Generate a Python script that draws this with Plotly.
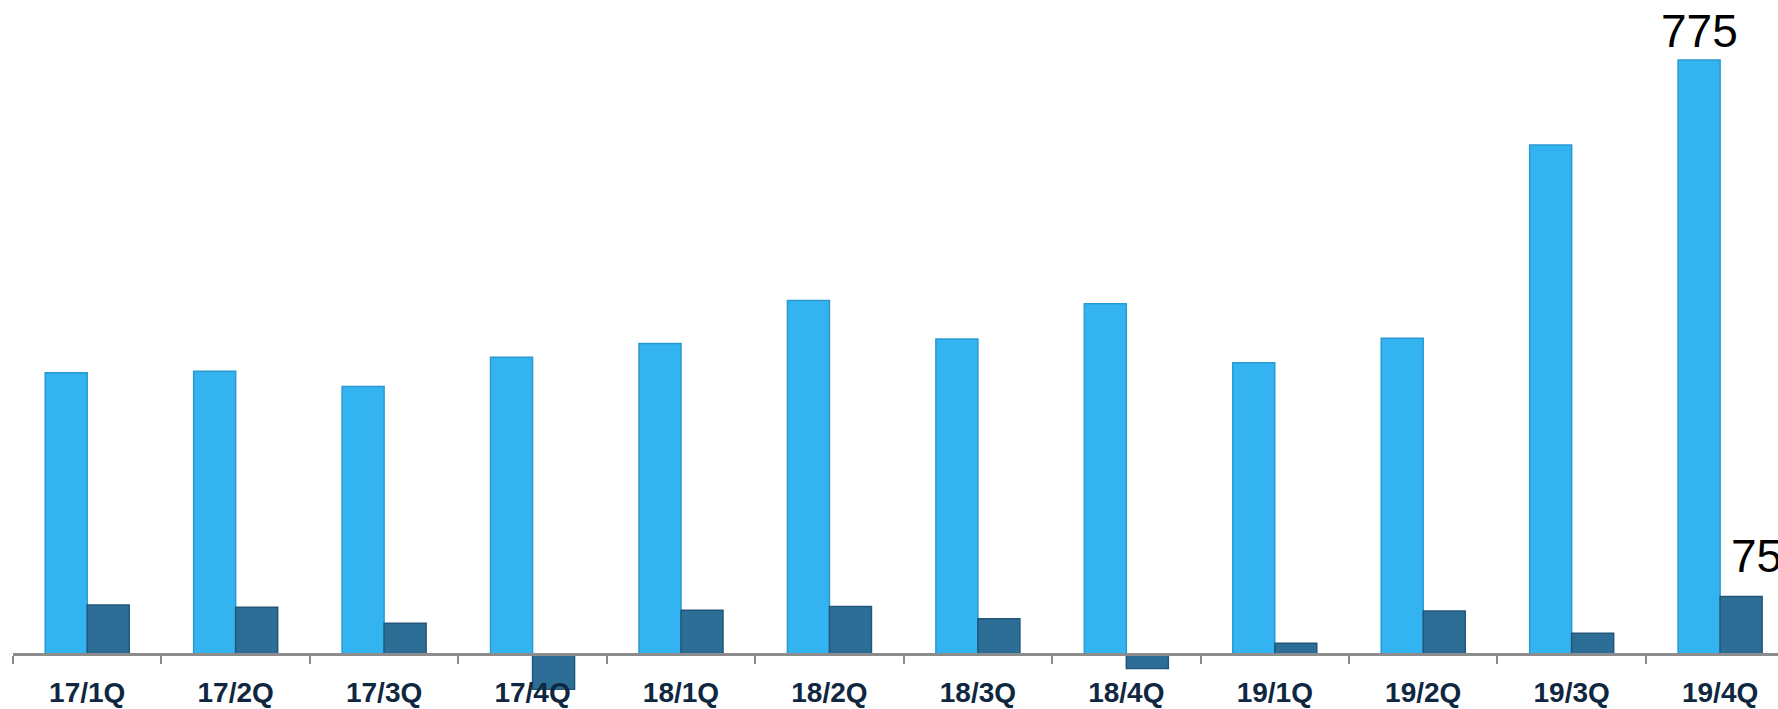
import plotly.graph_objects as go

# Quarterly figures: two series per quarter
quarters = ["17/1Q", "17/2Q", "17/3Q", "17/4Q", "18/1Q", "18/2Q",
            "18/3Q", "18/4Q", "19/1Q", "19/2Q", "19/3Q", "19/4Q"]
series_main = [367, 369, 349, 387, 405, 461, 411, 457, 380, 412, 664, 775]
series_sub = [64, 61, 40, -46, 57, 62, 46, -19, 14, 56, 27, 75]

LIGHT = "#33B3F0"
LIGHT_EDGE = "#2A9AD2"
DARK = "#2D6E97"
DARK_EDGE = "#22577A"
AXIS_GREY = "#8C8C8C"
LABEL_NAVY = "#0F2740"
FONT = "Liberation Sans, Arial, sans-serif"

y_min, y_max = -71.8, 853.2
zero_pos = (0 - y_min) / (y_max - y_min)

fig = go.Figure()
fig.add_trace(go.Bar(
    x=quarters, y=series_main, name="main",
    marker=dict(color=LIGHT, line=dict(color=LIGHT_EDGE, width=1.5)),
))
fig.add_trace(go.Bar(
    x=quarters, y=series_sub, name="sub",
    marker=dict(color=DARK, line=dict(color=DARK_EDGE, width=1.5)),
))

# value labels on the final quarter
last = len(quarters) - 1
fig.add_annotation(
    x=quarters[last], y=series_main[last], text=str(series_main[last]),
    xref="x", yref="y", showarrow=False, xanchor="center", yanchor="bottom",
    xshift=-21, yshift=1, font=dict(family=FONT, size=46, color="#000000"),
)
fig.add_annotation(
    x=quarters[last], y=series_sub[last], text=str(series_sub[last]),
    xref="x", yref="y", showarrow=False, xanchor="center", yanchor="bottom",
    xshift=36, yshift=12, font=dict(family=FONT, size=46, color="#000000"),
)

fig.update_layout(
    width=1778, height=709,
    margin=dict(l=13, r=0, t=0, b=0),
    paper_bgcolor="white", plot_bgcolor="white",
    barmode="group", bargap=0.434, bargroupgap=0,
    showlegend=False,
    xaxis=dict(
        type="category", range=[-0.5, 11.39],
        anchor="free", position=zero_pos,
        showline=True, linecolor=AXIS_GREY, linewidth=2.5,
        ticks="outside", tickson="boundaries", ticklen=8,
        tickcolor=AXIS_GREY, tickwidth=2,
        showgrid=False, zeroline=False,
        tickfont=dict(family=FONT, size=28, color=LABEL_NAVY, weight="bold"),
        ticklabelstandoff=13,
    ),
    yaxis=dict(range=[y_min, y_max], visible=False, showgrid=False,
               zeroline=False),
)

fig.write_html("out.html")
